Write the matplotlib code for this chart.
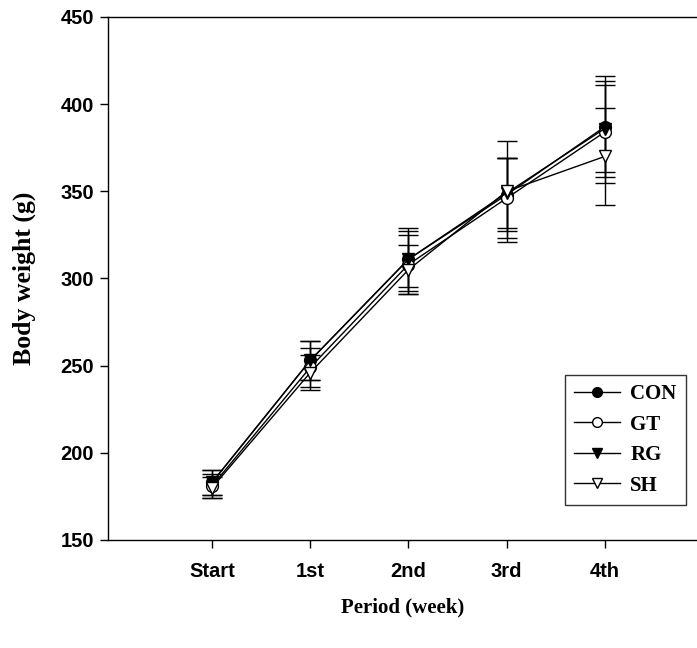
import matplotlib
matplotlib.use("Agg")
import matplotlib.pyplot as plt
from matplotlib.lines import Line2D
import numpy as np

periods = ["Start", "1st", "2nd", "3rd", "4th"]
con = [183, 253, 311, 348, 387]
con_err = [7, 11, 18, 21, 29]
gt = [181, 249, 308, 346, 384]
gt_err = [7, 11, 17, 23, 29]
rg = [183, 253, 311, 349, 386]
rg_err = [7, 11, 16, 20, 25]
sh = [180, 246, 305, 350, 370]
sh_err = [6, 10, 14, 29, 28]

yticks = [150, 200, 250, 300, 350, 400, 450]

fig = plt.figure(figsize=(6.97, 6.48), dpi=100)
ax = fig.add_axes([0.155, 0.1667, 0.845, 0.8071])

x = np.arange(len(periods))
series = [
    ("CON", con, con_err, "o", "black"),
    ("GT", gt, gt_err, "o", "white"),
    ("RG", rg, rg_err, "v", "black"),
    ("SH", sh, sh_err, "v", "white"),
]
handles = []
for name, vals, errs, m, fc in series:
    ax.errorbar(x, vals, yerr=errs, color="black", lw=1.0, elinewidth=1.0,
                capsize=7, capthick=1.0, marker=m, markersize=8.5,
                markerfacecolor=fc, markeredgecolor="black", markeredgewidth=1.0)
    handles.append(Line2D([], [], color="black", lw=1.0, marker=m, markersize=7,
                          markerfacecolor=fc, markeredgecolor="black",
                          markeredgewidth=1.0, label=name))

ax.set_xlim(-1.06, 4.94)
ax.set_ylim(150, 450)
ax.set_yticks(yticks)
ax.set_xticks(x)
ax.set_xticklabels(periods)
ax.spines["right"].set_visible(False)
for s in ["left", "top", "bottom"]:
    ax.spines[s].set_linewidth(1.0)
ax.tick_params(direction="out", length=6, width=1.0)
for lab in ax.get_xticklabels() + ax.get_yticklabels():
    lab.set_fontfamily("Liberation Sans")
    lab.set_fontweight("bold")
    lab.set_fontsize(14.5)
ax.tick_params(axis="x", pad=10)
ax.tick_params(axis="y", pad=4)

ax.set_xlabel("Period (week)", family="Liberation Serif", fontweight="bold",
              fontsize=15, labelpad=12)
ax.set_ylabel("Body weight (g)", family="Liberation Serif", fontweight="bold",
              fontsize=18.5, labelpad=18)

leg = ax.legend(handles=handles, loc="lower right", bbox_to_anchor=(0.981, 0.067),
                borderaxespad=0,
                prop={"family": "Liberation Serif", "weight": "bold", "size": 15},
                frameon=True, fancybox=False, edgecolor="black",
                handlelength=2.2, labelspacing=0.5, borderpad=0.45,
                handletextpad=0.5)
leg.get_frame().set_linewidth(1.0)

fig.savefig("out.png", dpi=100)
